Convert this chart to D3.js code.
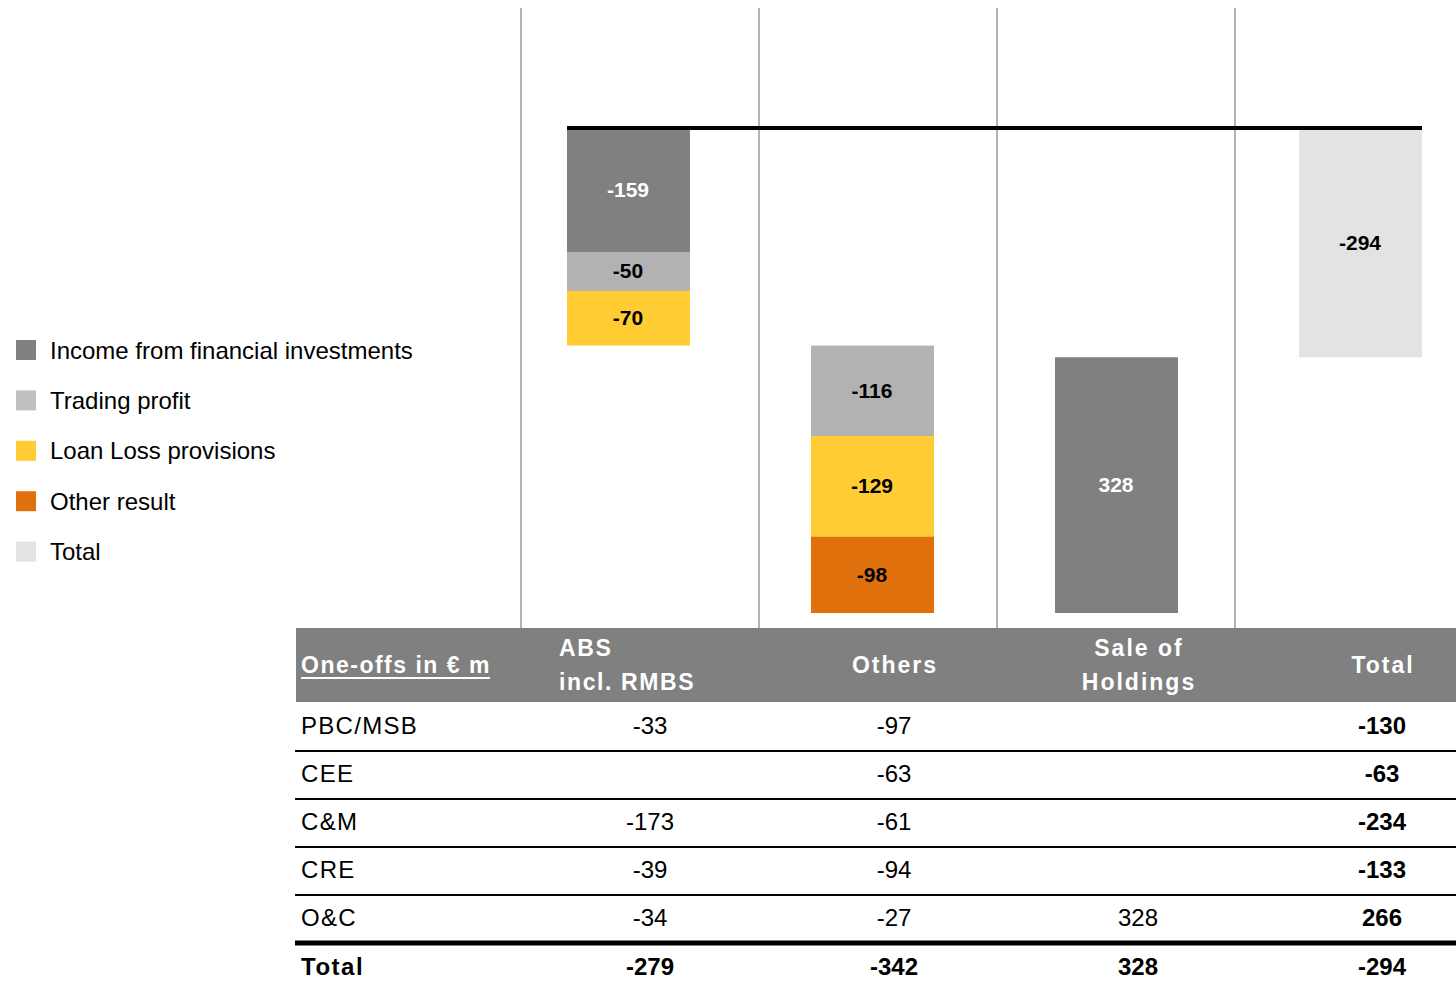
<!DOCTYPE html>
<html>
<head>
<meta charset="utf-8">
<script src="https://cdn.jsdelivr.net/npm/d3@7"></script>
<style>
  body { margin: 0; background: #fff; }
  svg { font-family: "Liberation Sans", Arial, sans-serif; }
</style>
</head>
<body>
<svg id="chart" width="1456" height="987"></svg>
<script>
// ---- data ----
const categories = ["ABS incl. RMBS", "Others", "Sale of Holdings", "Total"];
const seriesNames = ["Income from financial investments", "Trading profit", "Loan Loss provisions", "Other result", "Total"];
const seriesColors = ["#808080", "#b2b2b2", "#ffcc33", "#e0700b", "#e3e3e3"];
const legendColors = ["#808080", "#bfbfbf", "#ffcc33", "#e0700b", "#e3e3e3"];

// segment values per category (0 = no segment)
const incomeFinancial = [-159, 0, 328, 0];
const tradingProfit = [-50, -116, 0, 0];
const loanLoss = [-70, -129, 0, 0];
const otherResult = [0, -98, 0, 0];
const totalValues = [0, 0, 0, -294];

// table
const tableHeaders = ["ABS\nincl. RMBS", "Others", "Sale of\nHoldings", "Total"];
const rowLabels = ["PBC/MSB", "CEE", "C&M", "CRE", "O&C", "Total"];
const absCol = [-33, null, -173, -39, -34, -279];
const othersCol = [-97, -63, -61, -94, -27, -342];
const saleCol = [null, null, null, null, 328, 328];
const totalCol = [-130, -63, -234, -133, 266, -294];

// ---- build waterfall segments ----
const seriesValues = [incomeFinancial, tradingProfit, loanLoss, otherResult, totalValues];
const segments = [];
let running = 0;
categories.forEach((cat, ci) => {
  if (cat === "Total") running = 0;
  seriesValues.forEach((vals, si) => {
    const v = vals[ci];
    if (!v) return;
    segments.push({ cat, series: si, y0: running, y1: running + v, value: v });
    running += v;
  });
});
const lowest = d3.min(segments, d => Math.min(d.y0, d.y1));

const svg = d3.select("#chart");

const x = d3.scaleBand().domain(categories).range([506, 1482]).paddingInner(0.5).paddingOuter(0.25);
const y = d3.scaleLinear().domain([0, lowest]).range([128, 613]);

// separators
const sepX = d3.scaleLinear().domain([0, 3]).range([521, 1235]);
svg.append("g").selectAll("line")
  .data(d3.range(4))
  .enter().append("line")
  .attr("x1", d => sepX(d)).attr("x2", d => sepX(d))
  .attr("y1", 8).attr("y2", 628)
  .attr("stroke", "#b4b4b4").attr("stroke-width", 2);

// bars
svg.append("g").selectAll("rect")
  .data(segments)
  .enter().append("rect")
  .attr("x", d => x(d.cat))
  .attr("width", x.bandwidth() + 1)
  .attr("y", d => y(Math.max(d.y0, d.y1)))
  .attr("height", d => Math.abs(y(d.y1) - y(d.y0)))
  .attr("fill", d => seriesColors[d.series]);

svg.append("g").selectAll("text")
  .data(segments)
  .enter().append("text")
  .attr("x", d => x(d.cat) + x.bandwidth() / 2)
  .attr("y", d => (y(d.y0) + y(d.y1)) / 2)
  .attr("dy", "0.33em")
  .attr("text-anchor", "middle")
  .attr("font-size", 21)
  .attr("font-weight", "bold")
  .attr("fill", d => d.series === 0 ? "#fff" : "#000")
  .text(d => d.value);

// zero line
svg.append("line")
  .attr("x1", x(categories[0])).attr("x2", x(categories[3]) + x.bandwidth() + 1)
  .attr("y1", y(0)).attr("y2", y(0))
  .attr("stroke", "#000").attr("stroke-width", 4);

// legend
const legend = svg.append("g").selectAll("g")
  .data(seriesNames)
  .enter().append("g")
  .attr("transform", (d, i) => `translate(16,${350 + i * 50.4})`);
legend.append("rect")
  .attr("x", 0).attr("y", -10).attr("width", 20).attr("height", 20)
  .attr("fill", (d, i) => legendColors[i]);
legend.append("text")
  .attr("x", 34).attr("dy", "0.36em")
  .attr("font-size", 24)
  .attr("fill", "#000")
  .text(d => d);

// ---- table ----
const tx = d3.scaleBand().domain(categories).range([528, 1504]);
const table = svg.append("g");
table.append("rect")
  .attr("x", 296).attr("y", 628).attr("width", 1160).attr("height", 74)
  .attr("fill", "#808080");

table.append("text")
  .attr("x", 301).attr("y", 673)
  .attr("font-size", 23).attr("font-weight", "bold").attr("fill", "#fff")
  .attr("letter-spacing", 1.5)
  .text("One-offs in € m");
table.append("line")
  .attr("x1", 301).attr("x2", 490).attr("y1", 678).attr("y2", 678)
  .attr("stroke", "#fff").attr("stroke-width", 2);

tableHeaders.forEach((h, i) => {
  const lines = h.split("\n");
  const first = i === 0;
  const t = table.append("text")
    .attr("font-size", 23).attr("font-weight", "bold").attr("fill", "#fff")
    .attr("letter-spacing", first ? 1.6 : 2)
    .attr("text-anchor", first ? "start" : "middle");
  lines.forEach((ln, li) => {
    t.append("tspan")
      .attr("x", first ? 559 : tx(categories[i]) + tx.bandwidth() / 2 + 1)
      .attr("y", lines.length === 1 ? 673 : 656 + li * 34)
      .text(ln);
  });
});

const rowY = d3.scaleLinear().domain([0, 1]).range([725, 773]);
const cols = [absCol, othersCol, saleCol, totalCol];
rowLabels.forEach((lab, ri) => {
  const isTotal = lab === "Total";
  const yy = rowY(ri) + (isTotal ? 1 : 0);
  table.append("text")
    .attr("x", 301).attr("y", yy).attr("dy", "0.36em")
    .attr("font-size", 24)
    .attr("font-weight", isTotal ? "bold" : "normal")
    .attr("letter-spacing", isTotal ? 1.5 : 1.3)
    .text(lab);
  cols.forEach((col, ci) => {
    if (col[ri] === null) return;
    table.append("text")
      .attr("x", tx(categories[ci]) + tx.bandwidth() / 2)
      .attr("y", yy).attr("dy", "0.36em")
      .attr("text-anchor", "middle")
      .attr("font-size", 24)
      .attr("font-weight", isTotal || ci === 3 ? "bold" : "normal")
      .text(col[ri]);
  });
  if (ri < rowLabels.length - 1) {
    const ly = rowY(ri) + 26;
    table.append("line")
      .attr("x1", 295).attr("x2", 1456)
      .attr("y1", ly).attr("y2", ly)
      .attr("stroke", "#000")
      .attr("stroke-width", ri === rowLabels.length - 2 ? 5 : 2);
  }
});
</script>
</body>
</html>
